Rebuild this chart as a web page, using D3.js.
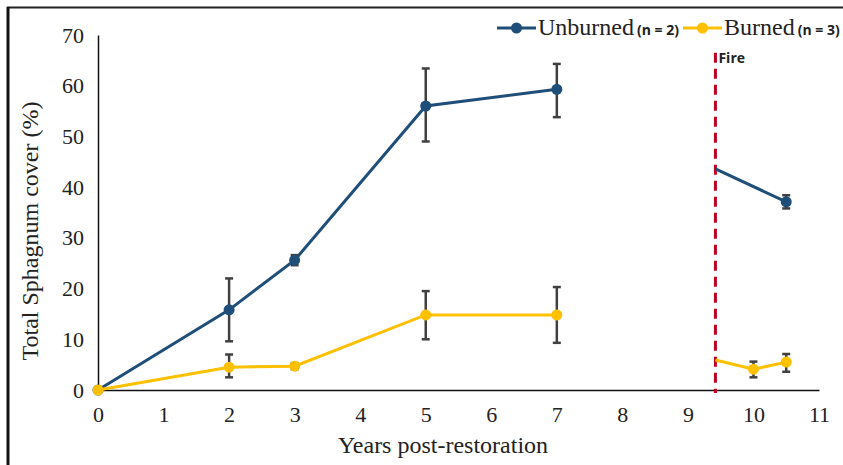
<!DOCTYPE html>
<meta charset="utf-8">
<style>
body { margin: 0; background: #fff; }
</style>
<svg width="843" height="465"></svg>
<script src="https://cdn.jsdelivr.net/npm/d3@7"></script>
<script>

var svg = d3.select("svg");

// pre-fire years
var years = [0, 2, 3, 5, 7];
var unburned = [0, 15.8, 25.6, 56, 59.3];
var unburnedLo = [0, 9.6, 24.6, 49, 53.8];
var unburnedHi = [0, 22, 26.6, 63.4, 64.3];
var burned = [0, 4.5, 4.7, 14.8, 14.8];
var burnedLo = [0, 2.5, 4.1, 10, 9.3];
var burnedHi = [0, 7, 5.3, 19.5, 20.3];

// post-fire (first point sits on the fire line, no marker)
var fireYear = 9.42;
var unburnedPostYears = [9.42, 10.5];
var unburnedPost = [43.6, 37.1];
var unburnedPostLo = [null, 35.8];
var unburnedPostHi = [null, 38.4];
var burnedPostYears = [9.42, 10, 10.5];
var burnedPost = [5.9, 4.1, 5.5];
var burnedPostLo = [null, 2.5, 3.6];
var burnedPostHi = [null, 5.6, 7.1];

var xTicks = d3.range(0, 12);
var yTicks = d3.range(0, 80, 10);

var blue = "#1f4e79", gold = "#ffc000", errCol = "#404040";
var serif = '"Liberation Serif", "Times New Roman", serif';
var sans = '"Open Sans", "Liberation Sans", sans-serif';

var x = d3.scaleLinear().domain([0, 11]).range([98, 819]);
var y = d3.scaleLinear().domain([0, 70]).range([390, 35]);

// outer frame
svg.append("line").attr("x1", 7).attr("x2", 843).attr("y1", 7.5).attr("y2", 7.5)
    .attr("stroke", "#222").attr("stroke-width", 2);
svg.append("line").attr("x1", 8).attr("x2", 8).attr("y1", 7).attr("y2", 465)
    .attr("stroke", "#111").attr("stroke-width", 3);

// axes
var xAxis = svg.append("g").attr("transform", "translate(0,390)")
    .call(d3.axisBottom(x).tickValues(xTicks).tickSize(0).tickPadding(16).tickFormat(d3.format("d")));
xAxis.select(".domain").attr("stroke", "#111").attr("stroke-width", 1.5);

var yAxis = svg.append("g").attr("transform", "translate(98,0)")
    .call(d3.axisLeft(y).tickValues(yTicks).tickSize(0).tickPadding(14));
yAxis.select(".domain").attr("stroke", "#111").attr("stroke-width", 1.5);

svg.selectAll(".tick text")
    .style("font-family", serif).style("font-size", "22px").style("fill", "#222");

svg.append("text")
    .attr("x", 443).attr("y", 453).attr("text-anchor", "middle")
    .style("font-family", serif).style("font-size", "24px").style("fill", "#222")
    .text("Years post-restoration");
svg.append("text")
    .attr("transform", "translate(38,231) rotate(-90)").attr("text-anchor", "middle")
    .style("font-family", serif).style("font-size", "24px").style("fill", "#222")
    .text("Total Sphagnum cover (%)");

// fire line
svg.append("line")
    .attr("x1", x(fireYear)).attr("x2", x(fireYear))
    .attr("y1", y(66.5)).attr("y2", y(-0.6))
    .attr("stroke", "#c00020").attr("stroke-width", 3)
    .attr("stroke-dasharray", "10,6");
svg.append("text")
    .attr("x", x(fireYear) + 3).attr("y", y(64.5))
    .style("font-family", sans).style("font-size", "14px").style("font-weight", "bold").style("fill", "#222")
    .text("Fire");

var line = d3.line().x(function(d) { return x(d[0]); }).y(function(d) { return y(d[1]); });

function series(xs, vals, lo, hi, color, skipFirst) {
  var pts = xs.map(function(d, i) { return [d, vals[i], lo[i], hi[i]]; });
  svg.append("path").datum(pts)
      .attr("d", line)
      .attr("fill", "none").attr("stroke", color).attr("stroke-width", 3);
  var withErr = pts.filter(function(d) { return d[2] != null && d[3] - d[2] > 0; });
  var g = svg.append("g").attr("stroke", errCol).attr("stroke-width", 2.5);
  g.selectAll(".bar").data(withErr).enter().append("line")
      .attr("x1", function(d) { return x(d[0]); }).attr("x2", function(d) { return x(d[0]); })
      .attr("y1", function(d) { return y(d[2]); }).attr("y2", function(d) { return y(d[3]); });
  g.selectAll(".cap1").data(withErr).enter().append("line")
      .attr("x1", function(d) { return x(d[0]) - 4; }).attr("x2", function(d) { return x(d[0]) + 4; })
      .attr("y1", function(d) { return y(d[2]); }).attr("y2", function(d) { return y(d[2]); });
  g.selectAll(".cap2").data(withErr).enter().append("line")
      .attr("x1", function(d) { return x(d[0]) - 4; }).attr("x2", function(d) { return x(d[0]) + 4; })
      .attr("y1", function(d) { return y(d[3]); }).attr("y2", function(d) { return y(d[3]); });
  svg.append("g").selectAll("circle").data(skipFirst ? pts.slice(1) : pts).enter().append("circle")
      .attr("cx", function(d) { return x(d[0]); }).attr("cy", function(d) { return y(d[1]); })
      .attr("r", 5.5).attr("fill", color);
}

series(years, unburned, unburnedLo, unburnedHi, blue, false);
series(years, burned, burnedLo, burnedHi, gold, false);
series(unburnedPostYears, unburnedPost, unburnedPostLo, unburnedPostHi, blue, true);
series(burnedPostYears, burnedPost, burnedPostLo, burnedPostHi, gold, true);

// legend
var legend = [
  {name: "Unburned", n: "(n = 2)", color: blue, x: 497},
  {name: "Burned", n: "(n = 3)", color: gold, x: 683}
];
var lg = svg.append("g").selectAll("g").data(legend).enter().append("g")
    .attr("transform", function(d) { return "translate(" + d.x + ",28)"; });
lg.append("line").attr("x1", 0).attr("x2", 39).attr("stroke", function(d) { return d.color; })
    .attr("stroke-width", 3);
lg.append("circle").attr("cx", 19.5).attr("r", 5.5).attr("fill", function(d) { return d.color; });
lg.append("text").attr("x", 41).attr("y", 7)
    .style("font-family", serif).style("font-size", "24px").style("fill", "#222")
    .text(function(d) { return d.name; })
    .each(function(d) {
      var w = this.getComputedTextLength();
      d3.select(this.parentNode).append("text")
          .attr("x", 41 + w + 3).attr("y", 7)
          .style("font-family", sans).style("font-size", "14px").style("font-weight", "bold").style("fill", "#222")
          .text(d.n);
    });

</script>
